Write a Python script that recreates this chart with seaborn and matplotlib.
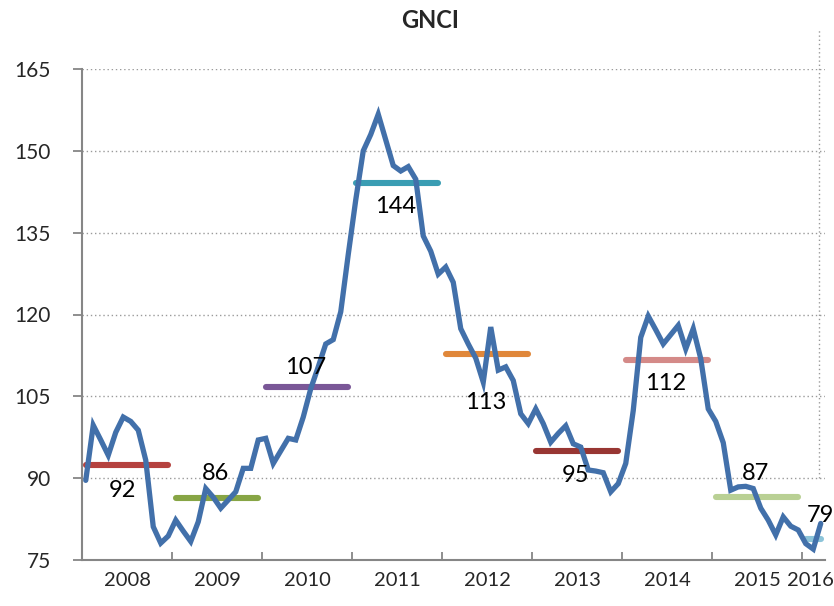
import numpy as np
import pandas as pd
import matplotlib
matplotlib.use("Agg")
import matplotlib.pyplot as plt
import seaborn as sns

# ---- data ----
years = ["2008", "2009", "2010", "2011", "2012", "2013", "2014", "2015", "2016"]
months_per_year = [12, 12, 12, 12, 12, 12, 12, 12, 3]
gnci = [89.6, 99.7, 97.0, 94.2, 98.4, 101.2, 100.4, 98.8, 93.3, 81.1, 78.1, 79.4,
        82.3, 80.3, 78.4, 82.0, 88.1, 86.5, 84.5, 86.0, 87.5, 91.8, 91.8, 97.0,
        97.3, 92.7, 95.0, 97.3, 97.0, 101.2, 106.4, 110.4, 114.6, 115.4, 120.5, 131.0,
        141.0, 150.0, 153.0, 156.7, 152.0, 147.3, 146.3, 147.1, 144.8, 134.4, 131.6, 127.4,
        128.7, 125.9, 117.4, 114.6, 112.0, 107.6, 117.7, 109.8, 110.4, 107.9, 101.8, 100.0,
        102.7, 100.0, 96.6, 98.2, 99.6, 96.3, 95.7, 91.5, 91.3, 91.0, 87.5, 89.0,
        92.7, 102.4, 115.8, 119.7, 117.2, 114.6, 116.3, 118.0, 113.7, 117.4, 111.9, 102.7,
        100.4, 96.5, 87.8, 88.4, 88.5, 88.1, 84.5, 82.3, 79.6, 82.9, 81.2, 80.5,
        78.0, 77.0, 81.7]
year_means = [92.4, 86.3, 106.7, 144.1, 112.8, 94.9, 111.7, 86.6, 78.8]
mean_colors = ["#B5423F", "#87A545", "#7A5797", "#3A9DB3", "#E0873A",
               "#983633", "#D48A88", "#B9D094", "#8CC4D9"]
yticks = [75, 90, 105, 120, 135, 150, 165]

# label offsets (points), above (+) or below (-) the mean bar
label_dx = [-3, -1, -1, -1, -1, -1, -1, -1, 5]
label_dy = [-18, 18, 14, -17, -35, -17, -17, 17, 17]

# ---- frame ----
n = len(gnci)
df = pd.DataFrame({"pos": np.arange(n) + 0.5, "GNCI": gnci})

sns.set_style("white")
plt.rcParams["font.family"] = ["Lato", "DejaVu Sans"]

fig = plt.figure(figsize=(8.34, 6.06), dpi=100)
ax = fig.add_axes([82 / 834, 46 / 606, (824.5 - 82) / 834, (560 - 69) / 606])

grid_c = "#9A9A9A"
axis_c = "#868686"
for y in yticks[1:]:
    ax.axhline(y, color=grid_c, lw=1.0, ls=(0, (1, 2)), zorder=0)

# year mean bars
starts = np.cumsum([0] + months_per_year[:-1])
for k, (yr, m, c) in enumerate(zip(years, year_means, mean_colors)):
    s = starts[k]
    e = s + months_per_year[k]
    ax.plot([s + 0.5, e - 0.5], [m, m], color=c, lw=4.4,
            solid_capstyle="round", zorder=2)

sns.lineplot(data=df, x="pos", y="GNCI", ax=ax, color="#4270AA", lw=3.8,
             zorder=3, solid_joinstyle="miter")

for k, m in enumerate(year_means):
    s = starts[k]
    cx = s + months_per_year[k] / 2
    ax.annotate(f"{m:.0f}", (cx, m), xytext=(label_dx[k], label_dy[k]),
                textcoords="offset points", ha="center", va="center",
                fontsize=17, color="black", zorder=4, annotation_clip=False)

# decorative dotted vertical line at right
ax.axvline(98.27, ymin=(90 - 75) / 90, ymax=(560 - 30) / 491, color=grid_c,
           lw=1.0, ls=(0, (1, 2)), clip_on=False, zorder=0)

ax.set_xlim(0, n)
ax.set_ylim(75, 165)
ax.set_xlabel("")
ax.set_ylabel("")

# axes styling
for sp in ["top", "right"]:
    ax.spines[sp].set_visible(False)
for sp in ["left", "bottom"]:
    ax.spines[sp].set_color(axis_c)
    ax.spines[sp].set_linewidth(1.5)

ax.set_yticks(yticks)
ax.set_yticklabels([str(v) for v in yticks], fontsize=15)
ax.tick_params(axis="y", direction="out", length=6.5, width=1.3, color=axis_c,
               pad=16, left=True)

bounds = list(np.cumsum(months_per_year)[:-1])
centers = [starts[k] + months_per_year[k] / 2 for k in range(len(years))]
centers[-1] -= 0.4  # keep the last label inside the canvas
ax.set_xticks(bounds)
ax.set_xticklabels([""] * len(bounds))
ax.set_xticks(centers, minor=True)
ax.set_xticklabels(years, minor=True, fontsize=14.5)
ax.tick_params(axis="x", which="major", direction="in", length=5.5, width=1.3,
               color=axis_c, bottom=True)
ax.tick_params(axis="x", which="minor", length=0, pad=9)

fig.text(430 / 834, (606 - 21) / 606, "GNCI", ha="center", va="center",
         fontsize=17, fontweight="bold")

fig.savefig("out.png", dpi=100)
